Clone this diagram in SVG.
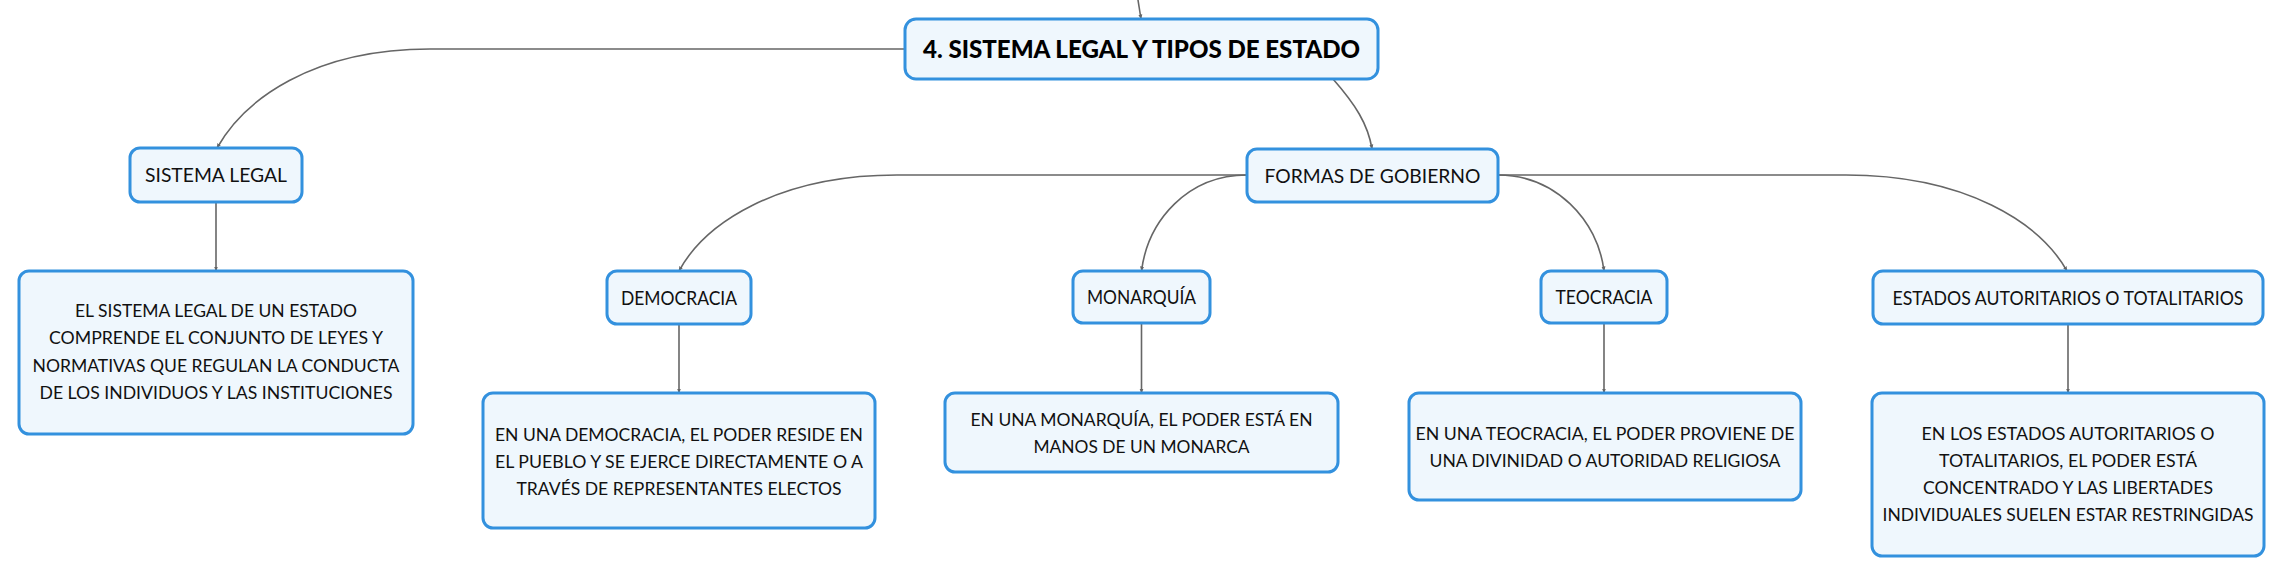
<svg xmlns="http://www.w3.org/2000/svg" width="2284" height="577" viewBox="0 0 2284 577">
<defs>
<marker id="arr" viewBox="0 0 10 10" refX="9" refY="5" markerWidth="5" markerHeight="5" orient="auto" markerUnits="userSpaceOnUse">
<path d="M0,1 L10,5 L0,9 Z" fill="#666"/>
</marker>
</defs>
<style>
.box{fill:#eff7fd;stroke:#3391de;stroke-width:3}
.lbl{font-family:Lato,"Noto Sans",sans-serif;font-size:19px;fill:#111;text-anchor:middle}
.main{font-family:Lato,"Noto Sans",sans-serif;font-size:24px;font-weight:900;fill:#000;text-anchor:middle}
.txt{font-family:Lato,"Noto Sans",sans-serif;font-size:17.5px;fill:#111;text-anchor:middle}
.con{fill:none;stroke:#666;stroke-width:1.6}
</style>
<rect width="2284" height="577" fill="#fff"/>
<g id="connectors">
<path class="con" d="M1138,0 L1141,19" marker-end="url(#arr)"/>
<path class="con" d="M905,49 L430,49 C312,49 244,100 217,148" marker-end="url(#arr)"/>
<path class="con" d="M1333,79 C1355,104 1368,124 1372,149" marker-end="url(#arr)"/>
<path class="con" d="M216,202 L216,271" marker-end="url(#arr)"/>
<path class="con" d="M1247,175 L897,175 C778,175 705,223 679,271" marker-end="url(#arr)"/>
<path class="con" d="M1247,175 C1188,175 1148,220 1141.5,271" marker-end="url(#arr)"/>
<path class="con" d="M1498,175 C1555,175 1598,220 1604,271" marker-end="url(#arr)"/>
<path class="con" d="M1498,175 L1846,175 C1966,175 2040,223 2067,271" marker-end="url(#arr)"/>
<path class="con" d="M679,324 L679,393" marker-end="url(#arr)"/>
<path class="con" d="M1141.5,323 L1141.5,393" marker-end="url(#arr)"/>
<path class="con" d="M1604,323 L1604,393" marker-end="url(#arr)"/>
<path class="con" d="M2068,324 L2068,393" marker-end="url(#arr)"/>
</g>
<g id="node-main">
<rect class="box" x="905" y="19" width="473" height="60" rx="11"/>
<text class="main" x="1141.5" y="57.5" textLength="437" lengthAdjust="spacingAndGlyphs">4. SISTEMA LEGAL Y TIPOS DE ESTADO</text>
</g>
<g id="node-sistema-legal">
<rect class="box" x="130" y="148" width="172" height="54" rx="10"/>
<text class="lbl" x="216" y="182" textLength="142" lengthAdjust="spacingAndGlyphs">SISTEMA LEGAL</text>
</g>
<g id="node-sistema-legal-desc">
<rect class="box" x="19" y="271" width="394" height="163" rx="10"/>
<text class="txt" x="216" y="317" textLength="282" lengthAdjust="spacingAndGlyphs">EL SISTEMA LEGAL DE UN ESTADO</text>
<text class="txt" x="216" y="344" textLength="334" lengthAdjust="spacingAndGlyphs">COMPRENDE EL CONJUNTO DE LEYES Y</text>
<text class="txt" x="216" y="371.5" textLength="367" lengthAdjust="spacingAndGlyphs">NORMATIVAS QUE REGULAN LA CONDUCTA</text>
<text class="txt" x="216" y="398.5" textLength="353" lengthAdjust="spacingAndGlyphs">DE LOS INDIVIDUOS Y LAS INSTITUCIONES</text>
</g>
<g id="node-formas">
<rect class="box" x="1247" y="149" width="251" height="53" rx="10"/>
<text class="lbl" x="1372.5" y="182.5" textLength="216" lengthAdjust="spacingAndGlyphs">FORMAS DE GOBIERNO</text>
</g>
<g id="node-democracia">
<rect class="box" x="607" y="271" width="144" height="53" rx="10"/>
<text class="lbl" x="679" y="304.5" textLength="116" lengthAdjust="spacingAndGlyphs">DEMOCRACIA</text>
</g>
<g id="node-democracia-desc">
<rect class="box" x="483" y="393" width="392" height="135" rx="10"/>
<text class="txt" x="679" y="440.5" textLength="368" lengthAdjust="spacingAndGlyphs">EN UNA DEMOCRACIA, EL PODER RESIDE EN</text>
<text class="txt" x="679" y="467.5" textLength="368" lengthAdjust="spacingAndGlyphs">EL PUEBLO Y SE EJERCE DIRECTAMENTE O A</text>
<text class="txt" x="679" y="494.5" textLength="325" lengthAdjust="spacingAndGlyphs">TRAVÉS DE REPRESENTANTES ELECTOS</text>
</g>
<g id="node-monarquia">
<rect class="box" x="1073" y="271" width="137" height="52" rx="10"/>
<text class="lbl" x="1141.5" y="304" textLength="109" lengthAdjust="spacingAndGlyphs">MONARQUÍA</text>
</g>
<g id="node-monarquia-desc">
<rect class="box" x="945" y="393" width="393" height="79" rx="10"/>
<text class="txt" x="1141.5" y="425.5" textLength="342" lengthAdjust="spacingAndGlyphs">EN UNA MONARQUÍA, EL PODER ESTÁ EN</text>
<text class="txt" x="1141.5" y="452.5" textLength="216" lengthAdjust="spacingAndGlyphs">MANOS DE UN MONARCA</text>
</g>
<g id="node-teocracia">
<rect class="box" x="1541" y="271" width="126" height="52" rx="10"/>
<text class="lbl" x="1604" y="304" textLength="97" lengthAdjust="spacingAndGlyphs">TEOCRACIA</text>
</g>
<g id="node-teocracia-desc">
<rect class="box" x="1409" y="393" width="392" height="107" rx="10"/>
<text class="txt" x="1605" y="439.5" textLength="379" lengthAdjust="spacingAndGlyphs">EN UNA TEOCRACIA, EL PODER PROVIENE DE</text>
<text class="txt" x="1605" y="466.5" textLength="351" lengthAdjust="spacingAndGlyphs">UNA DIVINIDAD O AUTORIDAD RELIGIOSA</text>
</g>
<g id="node-estados">
<rect class="box" x="1873" y="271" width="390" height="53" rx="10"/>
<text class="lbl" x="2068" y="304.5" textLength="351" lengthAdjust="spacingAndGlyphs">ESTADOS AUTORITARIOS O TOTALITARIOS</text>
</g>
<g id="node-estados-desc">
<rect class="box" x="1872" y="393" width="392" height="163" rx="10"/>
<text class="txt" x="2068" y="440" textLength="293" lengthAdjust="spacingAndGlyphs">EN LOS ESTADOS AUTORITARIOS O</text>
<text class="txt" x="2068" y="467" textLength="258" lengthAdjust="spacingAndGlyphs">TOTALITARIOS, EL PODER ESTÁ</text>
<text class="txt" x="2068" y="494" textLength="290" lengthAdjust="spacingAndGlyphs">CONCENTRADO Y LAS LIBERTADES</text>
<text class="txt" x="2068" y="521" textLength="371" lengthAdjust="spacingAndGlyphs">INDIVIDUALES SUELEN ESTAR RESTRINGIDAS</text>
</g>
</svg>
